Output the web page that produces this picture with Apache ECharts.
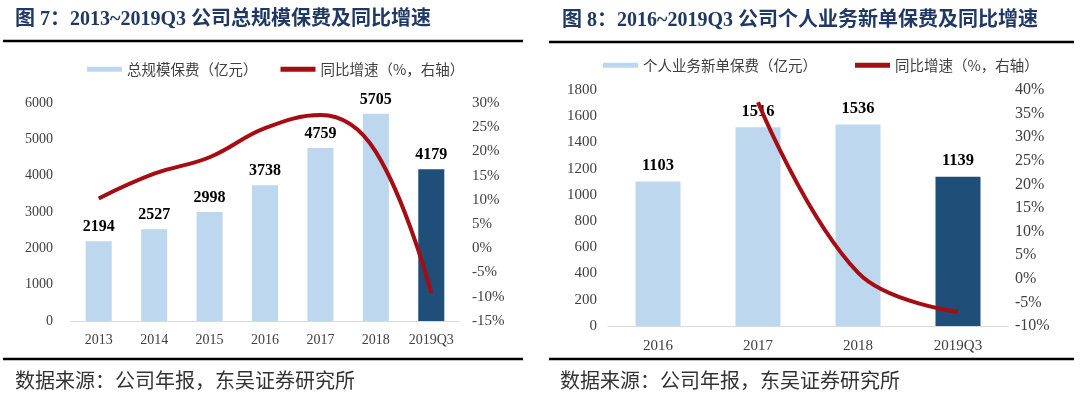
<!DOCTYPE html>
<html>
<head>
<meta charset="utf-8">
<script src="https://cdn.jsdelivr.net/npm/echarts@6/dist/echarts.min.js"></script>
<style>
  html, body { margin: 0; padding: 0; background: #fff; }
  #chart { width: 1080px; height: 398px; }
</style>
</head>
<body>
<div id="chart"></div>
<script>
// 图7 数据
const years1 = ["2013", "2014", "2015", "2016", "2017", "2018", "2019Q3"];
const premium1 = [2194, 2527, 2998, 3738, 4759, 5705, 4179];
const growth1 = [10.3, 15.4, 18.8, 24.8, 27.5, 19.9, -9.2];

// 图8 数据
const years2 = ["2016", "2017", "2018", "2019Q3"];
const premium2 = [1103, 1516, 1536, 1139];
const growth2 = [null, 37.4, 1.3, -7.0];

const barName1 = "总规模保费（亿元）";
const barName2 = "个人业务新单保费（亿元）";
const lineName = "同比增速（%，右轴）";

const LIGHT = "#bdd7ee";
const DARK = "#1f4e79";
const RED = "#a50d12";
const SERIF = '"Liberation Serif", "Times New Roman", serif';
const CJK = '"Noto Sans CJK SC", sans-serif';
const TITLE_FONT = 'bold 20px "Liberation Serif", "Noto Sans CJK SC"';

const myChart = echarts.init(document.getElementById("chart"));

// 最后一根柱子深色
function barColor(len) {
  return function (p) {
    return p.dataIndex === len - 1 ? DARK : LIGHT;
  };
}

function valueAxis(grid, min, max, step, pos, margin, size, pct) {
  return {
    type: "value",
    gridIndex: grid,
    position: pos,
    min: min,
    max: max,
    interval: step,
    splitLine: { show: false },
    axisLine: { show: false },
    axisTick: { show: false },
    axisLabel: {
      margin: margin,
      fontFamily: SERIF,
      fontSize: size,
      color: "#404040",
      formatter: function (v) {
        return pct ? v + "%" : String(v);
      },
    },
  };
}

function catAxis(grid, data, margin, size) {
  return {
    type: "category",
    gridIndex: grid,
    data: data,
    axisTick: { show: false },
    axisLine: { lineStyle: { color: "#d9d9d9", width: 1 } },
    axisLabel: { interval: 0, margin: margin, fontFamily: SERIF, fontSize: size, color: "#404040" },
  };
}

const legendText = { fontFamily: CJK, fontSize: 14.5, color: "#404040" };

myChart.setOption({
  animation: false,
  backgroundColor: "#fff",
  legend: [
    {
      left: 82, top: 57, itemGap: 23,
      icon: "rect", itemWidth: 35, itemHeight: 5,
      textStyle: legendText,
      data: [
        { name: barName1, itemStyle: { color: LIGHT } },
        { name: lineName, itemStyle: { color: RED } },
      ],
    },
    {
      left: 598, top: 53, itemGap: 38,
      icon: "rect", itemWidth: 35, itemHeight: 5,
      textStyle: legendText,
      data: [
        { name: barName2, itemStyle: { color: LIGHT } },
        { name: lineName, itemStyle: { color: RED } },
      ],
    },
  ],
  grid: [
    { left: 71, right: 621, top: 103, bottom: 77 },
    { left: 608, right: 72, top: 90, bottom: 72 },
  ],
  xAxis: [catAxis(0, years1, 12, 14), catAxis(1, years2, 13, 15)],
  yAxis: [
    valueAxis(0, 0, 6000, 1000, "left", 18, 14, false),
    valueAxis(0, -15, 30, 5, "right", 13, 15, true),
    valueAxis(1, 0, 1800, 200, "left", 11, 15, false),
    valueAxis(1, -10, 40, 5, "right", 7, 16, true),
  ],
  series: [
    {
      name: barName1, type: "bar", xAxisIndex: 0, yAxisIndex: 0,
      data: premium1, barWidth: "47%",
      itemStyle: { color: barColor(premium1.length) },
      label: { show: true, position: "top", distance: 6, fontFamily: SERIF, fontWeight: "bold", fontSize: 16, color: "#000" },
    },
    {
      name: lineName, type: "line", xAxisIndex: 0, yAxisIndex: 1,
      data: growth1, smooth: 0.4, symbol: "none", z: 5,
      lineStyle: { color: RED, width: 4 },
      itemStyle: { color: RED },
    },
    {
      name: barName2, type: "bar", xAxisIndex: 1, yAxisIndex: 2,
      data: premium2, barWidth: "45%",
      itemStyle: { color: barColor(premium2.length) },
      label: { show: true, position: "top", distance: 7, fontFamily: SERIF, fontWeight: "bold", fontSize: 16.5, color: "#000" },
    },
    {
      name: lineName, type: "line", xAxisIndex: 1, yAxisIndex: 3,
      data: growth2, smooth: 0.4, symbol: "none", z: 5,
      lineStyle: { color: RED, width: 4 },
      itemStyle: { color: RED },
    },
  ],
  // 标题、分隔线、数据来源
  graphic: [
    { type: "text", x: 15, y: 20, style: { text: "图 7：2013~2019Q3 公司总规模保费及同比增速", font: TITLE_FONT, fill: "#1f3864", verticalAlign: "middle" } },
    { type: "text", x: 562, y: 21, style: { text: "图 8：2016~2019Q3 公司个人业务新单保费及同比增速", font: TITLE_FONT, fill: "#1f3864", verticalAlign: "middle" } },
    { type: "line", shape: { x1: 3, y1: 41, x2: 523, y2: 41 }, style: { stroke: "#000", lineWidth: 2.5 } },
    { type: "line", shape: { x1: 549, y1: 42, x2: 1074, y2: 42 }, style: { stroke: "#000", lineWidth: 2.5 } },
    { type: "line", shape: { x1: 3, y1: 359, x2: 523, y2: 359 }, style: { stroke: "#000", lineWidth: 2.5 } },
    { type: "line", shape: { x1: 549, y1: 359, x2: 1074, y2: 359 }, style: { stroke: "#000", lineWidth: 2.5 } },
    { type: "text", x: 15, y: 380, style: { text: "数据来源：公司年报，东吴证券研究所", font: '20px ' + CJK, fill: "#333", verticalAlign: "middle" } },
    { type: "text", x: 560, y: 380, style: { text: "数据来源：公司年报，东吴证券研究所", font: '20px ' + CJK, fill: "#333", verticalAlign: "middle" } },
  ],
});
</script>
</body>
</html>
